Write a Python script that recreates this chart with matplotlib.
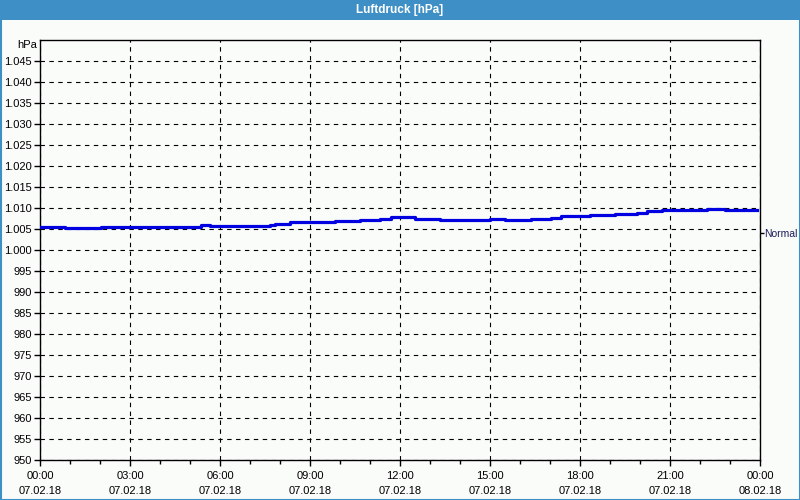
import matplotlib
matplotlib.use("Agg")
import matplotlib.pyplot as plt
from matplotlib.patches import Rectangle
from matplotlib.ticker import FixedLocator, MultipleLocator

# Data (hours since 07.02.18 00:00, pressure in hPa), step series
hours = [0.0, 0.83, 2.03, 5.37, 5.67, 7.67, 7.83, 8.33, 9.83, 10.67, 11.33, 11.7,
         12.5, 13.33, 15.0, 15.5, 16.37, 17.03, 17.37, 17.83, 18.33, 19.17, 19.9,
         20.23, 20.73, 21.4, 22.23, 22.83, 23.9]
pressure = [1005.5, 1005.3, 1005.5, 1005.9, 1005.6, 1006.0, 1006.3, 1006.7, 1007.0,
            1007.2, 1007.4, 1007.8, 1007.4, 1007.1, 1007.4, 1007.1, 1007.4, 1007.7,
            1008.0, 1008.2, 1008.4, 1008.6, 1008.9, 1009.2, 1009.45, 1009.6, 1009.8,
            1009.6, 1009.6]
normal_value = 1004.0
x_labels = ["00:00\n07.02.18", "03:00\n07.02.18", "06:00\n07.02.18", "09:00\n07.02.18",
            "12:00\n07.02.18", "15:00\n07.02.18", "18:00\n07.02.18", "21:00\n07.02.18",
            "00:00\n08.02.18"]
y_ticks = list(range(950, 1050, 5))
title = "Luftdruck [hPa]"


def fmt_de(v):
    s = f"{v:,}"
    return s.replace(",", ".")


plt.rcParams["font.family"] = ["Liberation Sans", "DejaVu Sans"]

BG = "#fafcfa"
BLUE = "#3d8fc6"
FS = 8

fig = plt.figure(figsize=(8, 5), dpi=100, facecolor=BG)
# title bar and frame
fig.patches.append(Rectangle((0, 1 - 20 / 500), 1, 20 / 500, transform=fig.transFigure,
                             facecolor=BLUE, edgecolor="none", zorder=0))
fig.patches.append(Rectangle((0.5 / 800, 0.5 / 500), 1 - 1 / 800, 1 - 1 / 500,
                             transform=fig.transFigure, facecolor="none",
                             edgecolor=BLUE, linewidth=1.5, zorder=5))
fig.text(0.5, 1 - 10 / 500, title, color="white", fontsize=8.5, fontweight="bold",
         ha="center", va="center")

ax = fig.add_axes([40 / 800, 40 / 500, 720 / 800, 420 / 500])
ax.set_facecolor(BG)
ax.set_xlim(0, 24)
ax.set_ylim(950, 1050)

ax.step(hours, pressure, where="post", color="#0000e0", linewidth=2.3, zorder=3)

ax.xaxis.set_major_locator(FixedLocator(range(0, 25, 3)))
ax.set_xticklabels(x_labels, fontsize=FS, linespacing=1.55)
ax.xaxis.set_minor_locator(MultipleLocator(1))
ax.set_yticks(y_ticks)
ax.set_yticklabels([fmt_de(v) for v in y_ticks], fontsize=FS)

ax.tick_params(axis="both", which="major", direction="out", length=4, width=1,
               colors="black", pad=2)
ax.tick_params(axis="x", which="major", pad=4)
ax.tick_params(axis="x", which="minor", direction="out", length=3, width=1)

ax.grid(True, which="major", color="black", linestyle=(0, (4, 4)), linewidth=0.8)
for s in ax.spines.values():
    s.set_linewidth(1.0)
    s.set_color("black")

# right axis with 'Normal' marker
ax2 = ax.twinx()
ax2.set_ylim(950, 1050)
ax2.set_yticks([normal_value])
ax2.set_yticklabels(["Normal"], fontsize=7.5, color="#1c1c5c")
ax2.tick_params(axis="y", direction="out", length=3, width=1, pad=0)
for s in ax2.spines.values():
    s.set_visible(False)

fig.text(37 / 800, 1 - 45 / 500, "hPa", fontsize=FS, ha="right", va="center")

fig.savefig("out.png", dpi=100, facecolor=BG)
